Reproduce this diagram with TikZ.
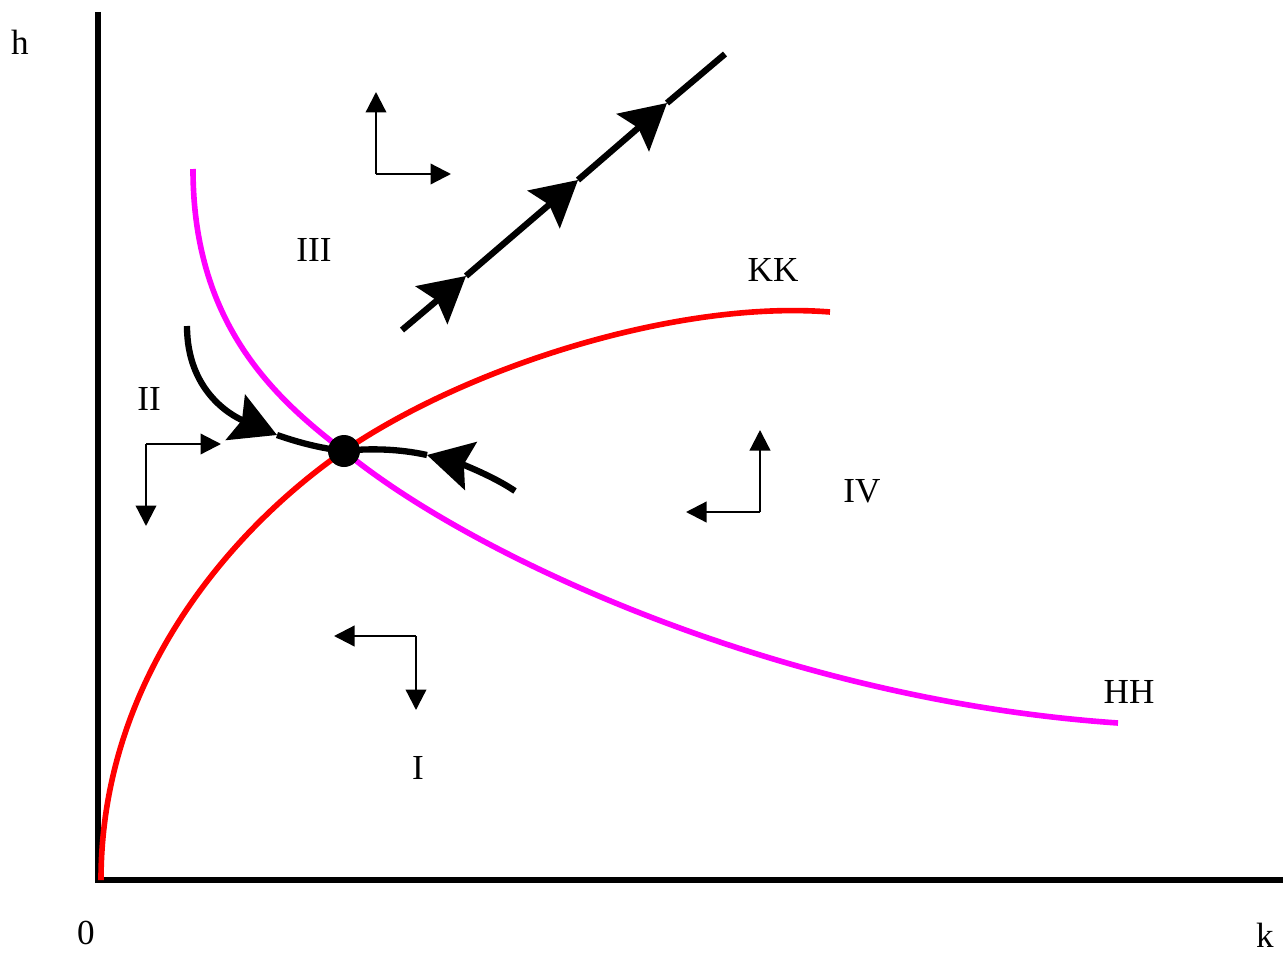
\documentclass[tikz,border=0pt]{standalone}
\usepackage{fontspec}
\setmainfont{Liberation Serif}
\usetikzlibrary{arrows.meta}
\definecolor{curvered}{RGB}{255,0,0}
\definecolor{curvemag}{RGB}{255,0,255}
\tikzset{
  axisline/.style={line width=3.4pt, black},
  kkcurve/.style={line width=3.2pt, curvered},
  hhcurve/.style={line width=3.2pt, curvemag},
  pathline/.style={line width=3.6pt, black, -{Stealth[length=0.9cm, width=0.98cm, inset=0.14cm]}},
  pathplain/.style={line width=3.6pt, black},
  smallarrow/.style={line width=1.3pt, black, -{Triangle[length=0.41cm, width=0.41cm]}},
  lbl/.style={font=\fontsize{20}{24}\selectfont, inner sep=0pt}
}
\begin{document}
\begin{tikzpicture}[x=0.02cm, y=-0.02cm]
\useasboundingbox (0,0) rectangle (1283,953);
% axes
\coordinate (O) at (98,880);
\coordinate (Ytop) at (98,12);
\coordinate (Xend) at (1283,880);
\draw[axisline] (Ytop) -- (O) -- (Xend);
\node[lbl] (hlab) at (20,42) {h};
\node[lbl] (zlab) at (86,933) {0};
\node[lbl] (klab) at (1265,935) {k};
% equilibrium
\coordinate (Eq) at (344,451);
% KK curve
\coordinate (K0) at (101,880);
\coordinate (K1) at (830,312);
\draw[kkcurve] (K0) .. controls (101,680) and (230,530) .. (Eq)
                    .. controls (470,365) and (680,300) .. (K1);
% HH curve
\coordinate (H0) at (193,169);
\coordinate (H1) at (1118,723);
\draw[hhcurve] (H0) .. controls (193,320) and (270,395) .. (Eq)
                    .. controls (470,555) and (780,700) .. (H1);
% unstable saddle path
\coordinate (U0) at (402,330);
\coordinate (U1) at (466,276);
\coordinate (U2) at (578,180);
\coordinate (U3) at (667,103);
\coordinate (U4) at (725,54);
\draw[pathline] (U0) -- (U1);
\draw[pathline] (U1) -- (U2);
\draw[pathline] (U2) -- (U3);
\draw[pathplain] (U3) -- (U4);
% stable arms
\coordinate (L0) at (187,326);
\coordinate (L1) at (277,435);
\draw[pathline] (L0) .. controls (187,390) and (230,415) .. (L1);
\draw[pathplain] (L1) .. controls (300,443) and (320,448) .. (Eq);
\coordinate (R0) at (515,491);
\coordinate (R1) at (427,455);
\draw[pathline] (R0) .. controls (490,474) and (455,462) .. (R1);
\draw[pathplain] (R1) .. controls (400,449) and (370,448) .. (Eq);
\node[circle, fill=black, minimum size=0.64cm, inner sep=0pt] (E) at (Eq) {};
% direction arrows
\coordinate (C3) at (376,174);
\coordinate (C3u) at (376,92);
\coordinate (C3r) at (451,174);
\draw[smallarrow] (C3) -- (C3u);
\draw[smallarrow] (C3) -- (C3r);
\coordinate (C2) at (146,444);
\coordinate (C2r) at (221,444);
\coordinate (C2d) at (146,526);
\draw[smallarrow] (C2) -- (C2r);
\draw[smallarrow] (C2) -- (C2d);
\coordinate (C4) at (760,512);
\coordinate (C4u) at (760,430);
\coordinate (C4l) at (686,512);
\draw[smallarrow] (C4) -- (C4u);
\draw[smallarrow] (C4) -- (C4l);
\coordinate (C1) at (416,636);
\coordinate (C1l) at (334,636);
\coordinate (C1d) at (416,710);
\draw[smallarrow] (C1) -- (C1l);
\draw[smallarrow] (C1) -- (C1d);
% labels
\node[lbl] (kk) at (773,270) {KK};
\node[lbl] (hh) at (1129,692) {HH};
\node[lbl] (r3) at (314,250) {III};
\node[lbl] (r2) at (149,399) {II};
\node[lbl] (r4) at (862,491) {IV};
\node[lbl] (r1) at (418,768) {I};
\end{tikzpicture}
\end{document}
